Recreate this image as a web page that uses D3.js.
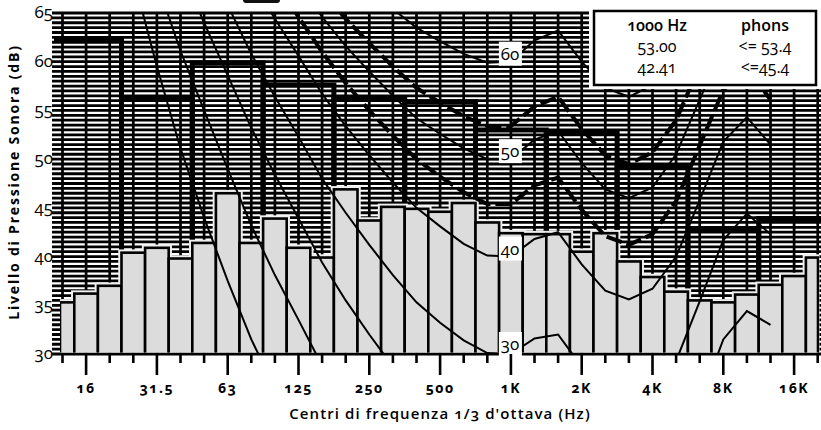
<!DOCTYPE html>
<html>
<head>
<meta charset="utf-8">
<script src="https://cdn.jsdelivr.net/npm/d3@7"></script>
<style>
  body { margin: 0; background: #fff; }
  svg text { font-family: "Open Sans", sans-serif; font-variant-numeric: oldstyle-nums; fill: #000; }
</style>
</head>
<body>
<script>
// 1/3 octave band centres and measured levels (dB)
const bands = ['12.5','16','20','25','31.5','40','50','63','80','100','125','160','200','250','315','400','500','630','800','1K','1.25K','1.6K','2K','2.5K','3.15K','4K','5K','6.3K','8K','10K','12.5K','16K','20K'];
const thirdOctave = [35.3, 36.2, 37.0, 40.4, 40.9, 39.8, 41.4, 46.5, 41.4, 43.9, 40.9, 39.9, 46.9, 43.7, 45.1, 44.9, 44.6, 45.5, 43.5, 42.4, 42.3, 42.3, 40.5, 42.4, 39.5, 37.9, 36.4, 35.5, 35.3, 36.1, 37.1, 38.0, 39.9];

// octave bands (thick step outline)
const octaveBands = ['16','31.5','63','125','250','500','1K','2K','4K','8K','16K'];
const octaveLevels = [62.3, 56.3, 59.9, 57.6, 56.3, 55.9, 53.0, 52.8, 49.2, 42.8, 43.9];

// equal loudness contours, 20 Hz .. 12.5 kHz
const contourBands = bands.slice(2, 31);
const threshold = [78.5, 68.7, 59.5, 51.1, 44.0, 37.5, 31.5, 26.5, 22.1, 17.9, 14.4, 11.4, 8.6, 6.2, 4.4, 3.0, 2.2, 2.4, 3.5, 1.7, -1.3, -4.2, -6.0, -5.4, -1.5, 6.0, 12.6, 13.9, 12.3];
const phon10 = [83.8, 75.8, 68.2, 61.1, 55.0, 49.0, 43.2, 38.1, 33.5, 28.8, 24.8, 21.3, 18.1, 15.1, 13.0, 11.2, 10.0, 10.0, 11.3, 10.4, 7.3, 4.5, 3.0, 3.8, 7.5, 14.4, 21.0, 23.4, 22.3];
const phon20 = [89.6, 82.7, 76.0, 69.6, 64.0, 58.6, 53.2, 48.4, 43.9, 39.4, 35.5, 32.0, 28.7, 25.7, 23.4, 21.5, 20.1, 20.0, 21.5, 21.4, 18.2, 15.4, 14.3, 15.1, 18.6, 25.0, 31.5, 34.4, 33.0];
const phon30 = [94.7, 88.3, 82.1, 76.1, 70.9, 65.8, 60.8, 56.4, 52.3, 48.0, 44.5, 41.2, 38.1, 35.3, 33.2, 31.4, 30.1, 30.0, 31.6, 32.0, 28.7, 25.9, 24.9, 25.9, 29.3, 35.4, 41.7, 44.4, 42.3];
const phon40 = [99.9, 93.9, 88.2, 82.6, 77.8, 73.1, 68.5, 64.4, 60.6, 56.7, 53.4, 50.4, 47.6, 45.0, 43.1, 41.3, 40.1, 40.0, 41.8, 42.5, 39.2, 36.5, 35.6, 36.7, 40.0, 45.8, 51.8, 54.3, 51.5];
const phon50 = [104.7, 99.1, 93.6, 88.4, 83.9, 79.5, 75.3, 71.5, 68.1, 64.6, 61.6, 59.0, 56.5, 54.2, 52.6, 51.1, 50.0, 50.0, 52.0, 52.9, 49.6, 46.9, 46.0, 47.1, 50.5, 56.1, 61.7, 63.7, 60.1];
const phon60 = [109.5, 104.2, 99.1, 94.2, 90.0, 85.9, 82.1, 78.7, 75.6, 72.5, 69.9, 67.5, 65.4, 63.5, 62.1, 60.8, 59.9, 60.0, 62.2, 63.2, 60.0, 57.3, 56.4, 57.6, 60.9, 66.4, 71.7, 73.2, 68.6];
// contours of the computed loudness (dashed)
const phon45 = [102.5, 96.7, 91.1, 85.7, 81.1, 76.5, 72.2, 68.2, 64.6, 61.0, 57.8, 55.0, 52.4, 50.0, 48.2, 46.6, 45.4, 45.4, 47.3, 48.1, 44.8, 42.1, 41.2, 42.3, 45.7, 51.4, 57.1, 59.4, 56.1];
const phon53 = [106.3, 100.8, 95.5, 90.3, 86.0, 81.7, 77.6, 73.9, 70.6, 67.3, 64.4, 61.9, 59.5, 57.3, 55.8, 54.4, 53.4, 53.4, 55.4, 56.4, 53.1, 50.4, 49.5, 50.7, 54.0, 59.6, 65.3, 67.2, 63.0];

const labelledContours = [['30', phon30], ['40', phon40], ['50', phon50], ['60', phon60]];
const yTicks = [30, 35, 40, 45, 50, 55, 60, 65];
const legendRows = [['1000 Hz', 'phons'], ['53.00', '<= 53.4'], ['42.41', '<=45.4']];

const W = 821, H = 430;
const plotLeft = 60, plotRight = 818;

const svg = d3.select('body').append('svg')
  .attr('width', W).attr('height', H);

const x = d3.scaleLinear().domain([0, bands.length - 1]).range([62.5, 817.7]);
const y = d3.scaleLinear().domain([30, 65]).range([354, 13]);
const bi = b => bands.indexOf(b);

const defs = svg.append('defs');
defs.append('clipPath').attr('id', 'plot')
  .append('rect').attr('x', 54).attr('y', 10).attr('width', W - 54).attr('height', 345);
defs.append('clipPath').attr('id', 'bars')
  .append('rect').attr('x', plotLeft).attr('y', 0).attr('width', plotRight - plotLeft + 1.5).attr('height', 352.5);
defs.append('clipPath').attr('id', 'curves')
  .append('rect').attr('x', 54).attr('y', 12).attr('width', W - 54).attr('height', 343);

// small dark tab at the top
svg.append('rect').attr('x', 243).attr('y', -4).attr('width', 37).attr('height', 7).attr('rx', 3).attr('fill', '#111');

// grid: horizontal every 0.5 dB, vertical at each band centre
const grid = svg.append('g');
grid.selectAll('line.h').data(d3.range(30, 65.01, 0.5)).enter().append('line')
  .attr('x1', 52).attr('x2', W)
  .attr('y1', d => y(d)).attr('y2', d => y(d))
  .attr('stroke', '#000').attr('stroke-width', 2.8);
grid.selectAll('line.v').data(bands).enter().append('line')
  .attr('x1', (d, i) => x(i)).attr('x2', (d, i) => x(i))
  .attr('y1', y(65) - 1).attr('y2', y(30))
  .attr('stroke', '#000').attr('stroke-width', 2.7);

// octave outlines
svg.append('g').attr('clip-path', 'url(#plot)')
  .selectAll('path').data(octaveBands).enter().append('path')
  .attr('d', (d, k) => {
    const c = bi(d);
    return `M${x(c - 1.5)},${y(30)}V${y(octaveLevels[k])}H${x(c + 1.5)}V${y(30)}`;
  })
  .attr('fill', 'none').attr('stroke', '#000').attr('stroke-width', 5);

// 1/3 octave bars
const barG = svg.append('g').attr('clip-path', 'url(#bars)');
const bx0 = i => Math.max(x(i - 0.5), plotLeft);
const bx1 = i => Math.min(x(i + 0.5), plotRight);
barG.selectAll('rect.halo').data(thirdOctave).enter().append('rect')
  .attr('x', (d, i) => bx0(i)).attr('width', (d, i) => bx1(i) - bx0(i))
  .attr('y', d => y(d)).attr('height', d => y(30) - y(d))
  .attr('fill', '#eee').attr('stroke', '#eee').attr('stroke-width', 6.5);
barG.selectAll('rect.bar').data(thirdOctave).enter().append('rect')
  .attr('x', (d, i) => bx0(i)).attr('width', (d, i) => bx1(i) - bx0(i))
  .attr('y', d => y(d)).attr('height', d => y(30) - y(d))
  .attr('fill', '#dcdcdc').attr('stroke', '#000').attr('stroke-width', 2.6);

// loudness contours
const line = d3.line().x((d, i) => x(i + 2)).y(d => y(d));
const curveG = svg.append('g').attr('clip-path', 'url(#curves)');
[threshold, phon10, phon20, phon30, phon40, phon50, phon60].forEach(c => {
  curveG.append('path').attr('d', line(c))
    .attr('fill', 'none').attr('stroke', '#000').attr('stroke-width', 2);
});
[phon45, phon53].forEach(c => {
  curveG.append('path').attr('d', line(c))
    .attr('fill', 'none').attr('stroke', '#000').attr('stroke-width', 4)
    .attr('stroke-dasharray', '16,5');
});

// contour labels at 1 kHz
const lab = svg.append('g');
labelledContours.forEach(([t, c]) => {
  const cx = x(bi('1K'));
  const cy = Math.min(y(c[bi('1K') - 2]) - 8, 344);
  lab.append('rect').attr('x', cx - 12).attr('y', cy - 12).attr('width', 23).attr('height', 24).attr('fill', '#fff');
  lab.append('text').attr('x', cx - 1).attr('y', cy + 6)
    .attr('text-anchor', 'middle').attr('font-size', 17).text(t);
});

// x axis ticks and labels
const ax = svg.append('g');
ax.selectAll('line').data(bands).enter().append('line')
  .attr('x1', (d, i) => x(i)).attr('x2', (d, i) => x(i))
  .attr('y1', y(30)).attr('y2', d => y(30) + (octaveBands.includes(d) ? 21 : 9))
  .attr('stroke', '#000').attr('stroke-width', 2.6);
ax.selectAll('text').data(octaveBands).enter().append('text')
  .attr('x', d => x(bi(d))).attr('y', 393)
  .attr('text-anchor', 'middle').attr('font-size', 14).attr('font-weight', 700)
  .attr('letter-spacing', 1.5).text(d => d);

// y axis labels
svg.append('g').selectAll('text').data(yTicks).enter().append('text')
  .attr('x', 53).attr('y', d => y(d) + 5)
  .attr('text-anchor', 'end').attr('font-size', 17).text(d => d);

// axis titles
svg.append('text').attr('x', 440).attr('y', 419)
  .attr('text-anchor', 'middle').attr('font-size', 15).attr('font-weight', 600)
  .attr('letter-spacing', 1.1).text("Centri di frequenza 1/3 d'ottava (Hz)");
svg.append('text').attr('transform', 'translate(19,182) rotate(-90)')
  .attr('text-anchor', 'middle').attr('font-size', 14).attr('font-weight', 700)
  .attr('letter-spacing', 1.8).text('Livello di Pressione Sonora (dB)');

// legend
const lg = svg.append('g');
lg.append('rect').attr('x', 589).attr('y', 0).attr('width', W - 589).attr('height', 89).attr('fill', '#fff');
lg.append('rect').attr('x', 594).attr('y', 11).attr('width', 222).attr('height', 74)
  .attr('fill', '#fff').attr('stroke', '#000').attr('stroke-width', 2.5);
legendRows.forEach((r, k) => {
  [657, 765].forEach((cx, j) => {
    lg.append('text').attr('x', cx).attr('y', 31 + k * 21)
      .attr('text-anchor', 'middle').attr('font-size', 16)
      .attr('font-weight', k === 0 ? 600 : 400).text(r[j]);
  });
});
</script>
</body>
</html>
